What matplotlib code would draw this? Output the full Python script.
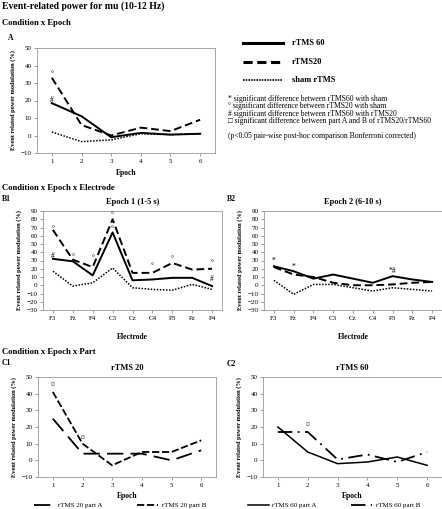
import matplotlib
matplotlib.use("Agg")
import matplotlib.pyplot as plt
from matplotlib.lines import Line2D

plt.rcParams['font.family'] = ['Liberation Serif', 'DejaVu Serif']

# ---- data ----
epochs = [1, 2, 3, 4, 5, 6]
electrodes = ['F3', 'Fz', 'F4', 'C3', 'Cz', 'C4', 'P3', 'Pz', 'P4']

# A: condition x epoch
a_rtms60 = [18.5, 11, -1, 1.5, 0.5, 1]
a_rtms20 = [33, 6, 0, 4.5, 2.5, 9]
a_sham = [2, -3.5, -2.5, 1, 0.5, 1]
a_marks = [(1, 35, '°'), (1, 20, '#')]

# B1: epoch 1 (1-5 s)
b1_rtms60 = [32, 29, 12, 64, 6, 7, 9, 9, -1]
b1_rtms20 = [67, 31, 22, 80, 15, 15, 27, 19, 20]
b1_sham = [17, -1, 3, 21, -3, -5, -6, 1, -5]
b1_marks = [(0, 68, '°'), (0, 35, '#'), (1, 34, '°'), (2, 33, '°'), (3, 85, '°'),
            (3, 68, '°'), (5, 23, '°'), (6, 32, '°'), (8, 27, '°'), (8, 7, '#')]

# B2: epoch 2 (6-10 s)
b2_rtms60 = [23, 17, 8, 13, 8, 3, 11, 7, 4]
b2_rtms20 = [22, 13, 10, 3, 0, 0, 1, 3, 4]
b2_sham = [6, -11, 1, 1, -3, -7, -3, -5, -7]
b2_marks = [(0, 30, '*'), (1, 22, '*'), (6, 17, '*#')]

# C1: rTMS 20 part A / B
c1_part_a = [25, 4, 4, 4, 0, 6]
c1_part_b = [41, 10, -3, 5, 5, 12]
c1_marks = [(1, 45, '¤'), (2, 13, '¤')]

# C2: rTMS 60 part A / B
c2_part_a = [20, 5, -2, -1, 2, -3]
c2_part_b = [17, 17, 0.5, 3.5, -1, 5]
c2_marks = [(2, 21, '¤')]

notes = [
    "* significant difference between rTMS60 with sham",
    "° significant difference between rTMS20 with sham",
    "# significant difference between rTMS60 with rTMS20",
    "□ significant difference between part A and B of rTMS20/rTMS60",
]

W, H = 442, 509
fig = plt.figure(figsize=(W / 100, H / 100), dpi=100)


def px_axes(left, top, right, bottom):
    return fig.add_axes([left / W, 1 - bottom / H, (right - left) / W, (bottom - top) / H])


def style(ax, ylim, step, xlabel):
    ax.set_ylim(*ylim)
    ax.set_yticks(range(ylim[0], ylim[1] + 1, step))
    for s in ax.spines.values():
        s.set_color('#999999')
        s.set_linewidth(0.6)
    ax.tick_params(labelsize=5, length=2, width=0.5, color='#777777', pad=2)
    ax.set_ylabel('Event related power modulation (%)', fontsize=4.6, fontweight='bold', labelpad=3)
    ax.set_xlabel(xlabel, fontsize=5.5, fontweight='bold', labelpad=3)


def fig_text(x, y, s, size=5.5, weight='bold', **kw):
    fig.text(x / W, 1 - y / H, s, fontsize=size, fontweight=weight, va='center', **kw)


SOLID = dict(color='black', lw=1.4, ls='-')
DASH = dict(color='black', lw=1.4, ls=(0, (4, 2)))
DOT = dict(color='black', lw=1.1, ls=(0, (1, 1)))

# ---- headings ----
fig_text(2, 6, 'Event-related power for mu (10-12 Hz)', size=7)
fig_text(2, 23, 'Condition x Epoch', size=6.2)
fig_text(8, 38, 'A', size=5.5)
fig_text(2, 188, 'Condition x Epoch x Electrode', size=6.2)
fig_text(2, 199, 'B1', size=5.5)
fig_text(227, 199, 'B2', size=5.5)
fig_text(2, 352, 'Condition x Epoch x Part', size=6.2)
fig_text(2, 363, 'C1', size=5.5)
fig_text(227, 364, 'C2', size=5.5)

# ---- panel A ----
ax = px_axes(37, 48, 215, 153)
ax.plot(epochs, a_rtms60, **SOLID)
ax.plot(epochs, a_rtms20, **DASH)
ax.plot(epochs, a_sham, **DOT)
ax.set_xlim(0.5, 6.5)
ax.set_xticks(epochs)
style(ax, (-10, 50), 10, 'Epoch')
ax.xaxis.labelpad = 4
for x, y, s in a_marks:
    ax.text(x, y, s, fontsize=5.5, ha='center', va='center')

# ---- legend for A ----
leg_ax = px_axes(238, 30, 440, 90)
leg_ax.set_axis_off()
leg_ax.set_xlim(238, 440)
leg_ax.set_ylim(90, 30)
for y, style_kw, lab in [(43, dict(color='black', lw=2.2, ls='-'), 'rTMS 60'),
                         (62, dict(color='black', lw=2.2, ls=(0, (3, 1.5))), 'rTMS20'),
                         (80, dict(color='black', lw=1.2, ls=(0, (1, 0.6))), 'sham rTMS')]:
    leg_ax.add_line(Line2D([243, 283], [y, y], **style_kw))
    leg_ax.text(292, y, lab, fontsize=6, fontweight='bold', va='center')
for i, n in enumerate(notes):
    fig_text(228, 99 + 7.3 * i, n, size=5.5, weight='normal')
fig_text(228, 136, '(p<0.05 pair-wise post-hoc comparison Bonferroni corrected)', size=5.5, weight='normal')

# ---- panels B ----
b_specs = [((43, 211, 222, 310), b1_rtms60, b1_rtms20, b1_sham, b1_marks, 'Epoch 1 (1-5 s)'),
           ((264, 211, 442, 310), b2_rtms60, b2_rtms20, b2_sham, b2_marks, 'Epoch 2 (6-10 s)')]
for box, s60, s20, sh, marks, title in b_specs:
    ax = px_axes(*box)
    xs = range(len(electrodes))
    ax.plot(xs, s60, **SOLID)
    ax.plot(xs, s20, **DASH)
    ax.plot(xs, sh, **DOT)
    ax.set_xlim(-0.5, len(electrodes) - 0.5)
    ax.set_xticks(list(xs))
    ax.set_xticklabels(electrodes)
    style(ax, (-30, 90), 10, 'Electrode')
    ax.xaxis.labelpad = 9
    ax.set_title(title, fontsize=6, fontweight='bold', pad=5)
    for x, y, s in marks:
        ax.text(x, y, s, fontsize=5.5, ha='center', va='center')

# ---- panels C ----
c_specs = [((38, 377, 216, 477), c1_part_a, c1_part_b, c1_marks, 'rTMS 20',
            dict(color='black', lw=1.3, ls=(0, (9, 4))), dict(color='black', lw=1.3, ls=(0, (4, 1.5))),
            'rTMS 20 part A', 'rTMS 20 part B', 120),
           ((263, 377, 442, 477), c2_part_a, c2_part_b, c2_marks, 'rTMS 60',
            dict(color='black', lw=1.1, ls='-'), dict(color='black', lw=1.3, ls=(0, (8, 3, 1, 3))),
            'rTMS 60 part A', 'rTMS 60 part B', 334)]
for box, pa, pb, marks, title, sa, sb, la, lb, leg_x in c_specs:
    ax = px_axes(*box)
    ax.plot(epochs, pa, label=la, **sa)
    ax.plot(epochs, pb, label=lb, **sb)
    ax.set_xlim(0.5, 6.5)
    ax.set_xticks(epochs)
    style(ax, (-10, 50), 10, 'Epoch')
    ax.set_title(title, fontsize=6, fontweight='bold', pad=5)
    for x, y, s in marks:
        ax.text(x, y, s, fontsize=5.5, ha='center', va='center')
    ax.legend(loc='center', bbox_to_anchor=(leg_x / W, 1 - 505 / H), bbox_transform=fig.transFigure,
              ncol=2, frameon=False, fontsize=5, handlelength=3, columnspacing=5,
              borderpad=0, handletextpad=0.5)

fig.savefig('out.png', dpi=100)
